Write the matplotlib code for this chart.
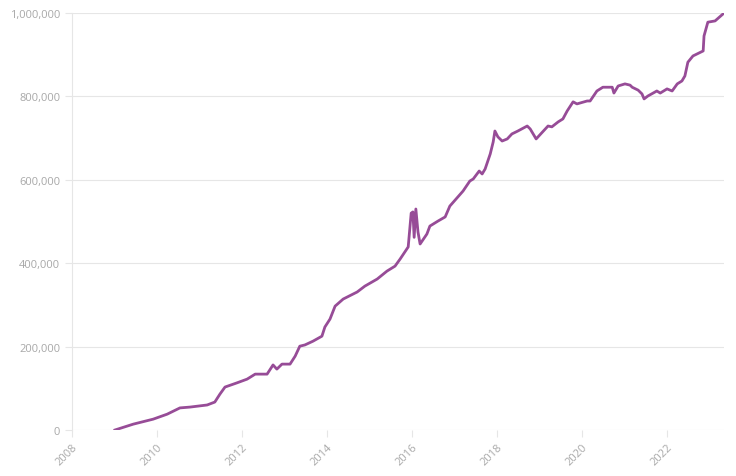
import matplotlib
matplotlib.use("Agg")
import matplotlib.pyplot as plt
from matplotlib.ticker import FuncFormatter

plt.rcParams['font.family'] = ['Open Sans', 'DejaVu Sans']

years = [2009.01, 2009.44, 2009.91, 2010.24, 2010.54, 2010.78, 2011.18, 2011.36, 2011.48, 2011.60,
         2011.88, 2012.12, 2012.31, 2012.59, 2012.73, 2012.82, 2012.94, 2013.13, 2013.25, 2013.36,
         2013.48, 2013.67, 2013.88, 2013.95, 2014.07, 2014.19, 2014.38, 2014.71, 2014.89, 2015.18,
         2015.41, 2015.60, 2015.72, 2015.91, 2015.98, 2016.02, 2016.05, 2016.09, 2016.14, 2016.19,
         2016.35, 2016.42, 2016.61, 2016.78, 2016.89, 2017.20, 2017.36, 2017.44, 2017.58, 2017.65,
         2017.72, 2017.84, 2017.91, 2017.95, 2018.02, 2018.12, 2018.24, 2018.35, 2018.49, 2018.71,
         2018.78, 2018.92, 2019.20, 2019.29, 2019.44, 2019.55, 2019.65, 2019.79, 2019.88, 2020.12,
         2020.19, 2020.35, 2020.49, 2020.71, 2020.75, 2020.85, 2021.01, 2021.13, 2021.18, 2021.32,
         2021.41, 2021.46, 2021.55, 2021.76, 2021.84, 2022.00, 2022.12, 2022.24, 2022.35, 2022.42,
         2022.49, 2022.61, 2022.85, 2022.87, 2022.96, 2023.13, 2023.32]
values = [0, 14000, 26000, 38000, 53000, 55000, 60000, 67000, 86000, 103000,
          113000, 122000, 134000, 134000, 156000, 146000, 158000, 158000, 177000, 201000,
          204000, 213000, 225000, 247000, 266000, 297000, 314000, 331000, 345000, 362000,
          381000, 393000, 410000, 439000, 520000, 523000, 462000, 530000, 475000, 446000,
          470000, 489000, 501000, 511000, 537000, 573000, 597000, 602000, 621000, 614000,
          626000, 662000, 691000, 717000, 703000, 693000, 698000, 710000, 717000, 729000,
          722000, 698000, 729000, 727000, 739000, 746000, 765000, 787000, 782000, 789000,
          789000, 813000, 822000, 822000, 808000, 825000, 830000, 827000, 822000, 815000,
          806000, 794000, 801000, 813000, 808000, 818000, 813000, 830000, 837000, 849000,
          882000, 897000, 909000, 945000, 978000, 981000, 998000]

x_ticks = [2008, 2010, 2012, 2014, 2016, 2018, 2020, 2022]
y_ticks = [0, 200000, 400000, 600000, 800000, 1000000]

fig = plt.figure(figsize=(7.36, 4.77), dpi=100)
ax = fig.add_axes([72/736, 1-431/477, (724-72)/736, (431-14)/477])

ax.plot(years, values, color='#974c97', linewidth=2.0, solid_joinstyle='round')

ax.set_xlim(2008, 2023.34)
ax.set_ylim(0, 1000000)
ax.set_xticks(x_ticks)
ax.set_yticks(y_ticks)
ax.yaxis.set_major_formatter(FuncFormatter(lambda v, p: f"{int(v):,}"))
ax.grid(axis='y', color='#e6e6e6', linewidth=0.8)
ax.set_axisbelow(True)
for s in ['top', 'right', 'bottom']:
    ax.spines[s].set_visible(False)
ax.spines['left'].set_color('#e6e6e6')
ax.tick_params(axis='both', colors='#e6e6e6', labelcolor='#a8a8a8', labelsize=8, length=5, width=0.8)
for lab in ax.get_xticklabels():
    lab.set_rotation(45)
    lab.set_ha('right')
    lab.set_rotation_mode('anchor')

fig.savefig('out.png', dpi=100)
